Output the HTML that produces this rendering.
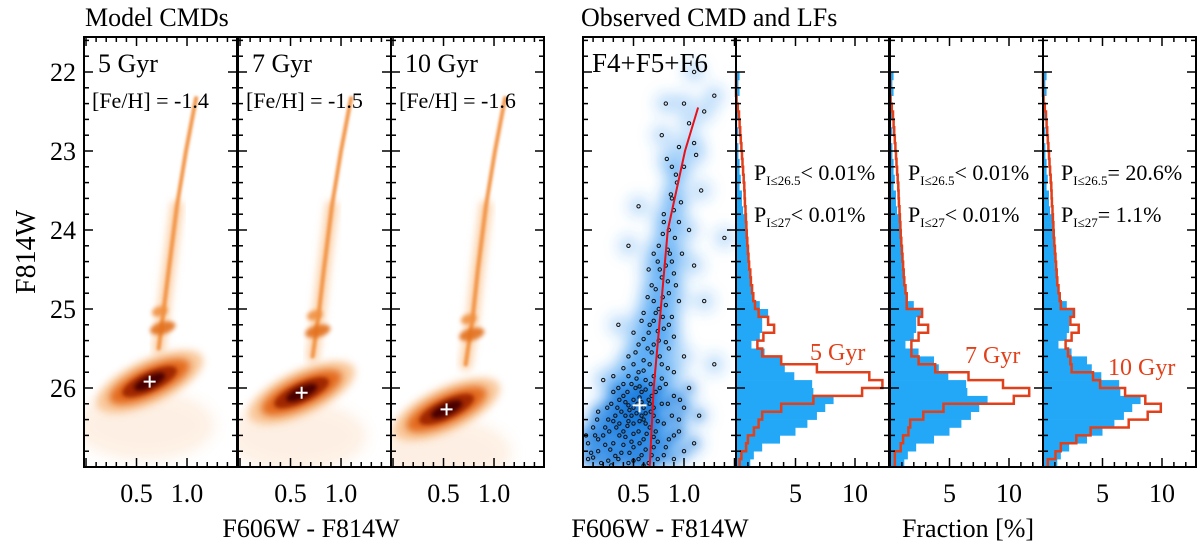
<!DOCTYPE html>
<html><head><meta charset="utf-8"><style>
html,body{margin:0;padding:0;background:#fff}
svg{display:block}
text{font-family:"Liberation Serif",serif;fill:#000}
</style></head><body>
<svg id="fig" width="1200" height="543" viewBox="0 0 1200 543" xmlns="http://www.w3.org/2000/svg">
<defs>
<filter id="b1" x="-50%" y="-50%" width="200%" height="200%"><feGaussianBlur stdDeviation="1.2"/></filter>
<filter id="b2" x="-50%" y="-50%" width="200%" height="200%"><feGaussianBlur stdDeviation="2"/></filter>
<filter id="b4" x="-50%" y="-50%" width="200%" height="200%"><feGaussianBlur stdDeviation="4"/></filter>
<filter id="b7" x="-50%" y="-50%" width="200%" height="200%"><feGaussianBlur stdDeviation="7"/></filter>
</defs>
<text x="85" y="26" font-size="26">Model CMDs</text>
<text x="581" y="26" font-size="26">Observed CMD and LFs</text>
<text transform="translate(35,252) rotate(-90)" text-anchor="middle" font-size="28">F814W</text>
<text x="311" y="537" text-anchor="middle" font-size="26">F606W - F814W</text>
<text x="660" y="537" text-anchor="middle" font-size="26">F606W - F814W</text>
<text x="968" y="537" text-anchor="middle" font-size="26">Fraction [%]</text>
<g id="layer"></g>
</svg>
<script>
// ---- data ----
const magTicks = [22, 23, 24, 25, 26];
const colorTicks = [0.5, 1.0];
const fracTicks = [5, 10];
const ages = ['5 Gyr', '7 Gyr', '10 Gyr'];
const fehLabels = ['[Fe/H] = -1.4', '[Fe/H] = -1.5', '[Fe/H] = -1.6'];
const binStart = 22.0;
const binWidth = 0.1;
const obsLF = [0.3,0.2,0.3,0.1,0.2,0.2,0.1,0.2,0.1,0.2, 0.2,0.3,0.3,0.4,0.3,0.5,0.5,0.6,0.8,0.9, 1.0,1.0,1.1,1.1,1.0,1.1,1.2,1.3,1.5,2.0, 2.7,2.2,2.2,2.0,1.3,2.4,3.7,4.1,4.9,6.4, 6.5,8.2,7.5,6.8,6.0,5.0,3.7,2.2,1.5,1.2];
const modelLF5 = [0,0,0,0.05,0.15,0.25,0.3,0.35,0.4,0.45, 0.5,0.55,0.6,0.65,0.7,0.72,0.75,0.8,0.83,0.87, 0.9,0.95,1.0,1.05,1.1,1.2,1.25,1.35,1.45,1.6, 1.9,2.7,3.2,2.3,1.8,2.2,3.8,6.8,11.2,12.3, 10.6,6.5,3.8,2.2,1.9,1.5,1.0,0.85,0.45,0.3];
const modelLF7 = [0,0,0,0.05,0.15,0.25,0.3,0.35,0.4,0.45, 0.5,0.55,0.6,0.65,0.7,0.72,0.75,0.8,0.83,0.87, 0.9,0.95,1.0,1.05,1.1,1.15,1.2,1.3,1.4,1.4, 2.7,2.4,3.2,2.4,1.8,1.8,2.4,3.8,6.6,9.5, 11.7,10.4,4.5,2.8,1.7,1.55,1.1,0.9,0.4,0.4];
const modelLF10 = [0,0,0,0.05,0.15,0.25,0.3,0.35,0.4,0.45, 0.5,0.55,0.6,0.65,0.7,0.72,0.75,0.8,0.83,0.87, 0.9,0.95,1.0,1.05,1.1,1.15,1.2,1.3,1.4,1.5, 2.6,2.3,3.0,2.4,1.9,2.1,2.3,2.4,4.2,4.8, 6.9,8.6,9.9,8.8,7.2,4.0,2.8,1.5,1.05,0.4];
const probTexts = [['< 0.01%','< 0.01%'],['< 0.01%','< 0.01%'],['= 20.6%','= 1.1%']];
const rgbTracks = [
 [[1.09,22.33],[0.99,23.0],[0.90,23.7],[0.82,24.5],[0.77,25.0],[0.72,25.5]],
 [[1.10,22.33],[1.00,23.0],[0.91,23.7],[0.83,24.5],[0.78,25.05],[0.72,25.6]],
 [[1.11,22.33],[1.01,23.0],[0.92,23.7],[0.84,24.5],[0.79,25.1],[0.72,25.7]]];
const clumps = [[[0.73,25.03],[0.76,25.24]],[[0.74,25.08],[0.77,25.28]],[[0.75,25.13],[0.78,25.32]]];
const msCenters = [[0.63,25.92],[0.61,26.06],[0.53,26.27]];
const obsStars = [[1.1,22.0],[0.82,22.4],[1.0,22.4],[1.2,22.5],[1.3,22.3],[0.78,22.8],[1.05,22.65],[1.1,22.9],[0.95,22.95],[1.12,23.05],[1.0,23.2],[0.55,23.7],[0.87,23.55],[0.93,23.4],[1.17,23.5],[0.9,23.75],[0.85,24.0],[0.95,23.9],[0.75,24.2],[1.05,24.0],[1.4,24.1],[0.45,24.2],[0.98,24.3],[0.82,24.45],[0.78,24.6],[1.1,24.45],[0.65,24.5],[0.9,24.55],[0.72,24.75],[0.85,24.8],[0.7,24.9],[0.95,24.9],[0.75,25.0],[0.6,25.05],[0.88,25.1],[1.2,24.9],[0.35,25.2],[0.5,25.3],[0.7,25.15],[0.8,25.25],[0.65,25.3],[0.9,25.35],[0.55,25.45],[0.75,25.4],[0.68,25.55],[0.45,25.6],[0.85,25.5],[0.6,25.65],[0.78,25.7],[1.0,25.6],[1.3,25.7],[0.4,25.75],[0.55,25.8],[0.7,25.85],[0.9,25.8],[0.3,25.85],[0.62,25.9],[0.82,25.95],[1.05,26.0],[0.2,25.9],[0.48,25.95],[0.35,26.0],[0.58,26.05],[0.72,26.05],[0.9,26.1],[0.4,26.1],[0.5,26.15],[0.65,26.15],[0.28,26.2],[0.45,26.22],[0.6,26.25],[0.78,26.2],[1.0,26.25],[0.15,26.3],[0.38,26.3],[0.53,26.32],[0.7,26.35],[0.88,26.35],[0.25,26.4],[0.45,26.42],[0.62,26.45],[0.8,26.45],[0.1,26.5],[0.33,26.5],[0.55,26.55],[0.72,26.55],[0.95,26.55],[0.2,26.6],[0.42,26.62],[0.6,26.65],[0.85,26.65],[0.05,26.7],[0.3,26.7],[0.5,26.75],[0.7,26.75],[0.15,26.8],[0.38,26.82],[0.58,26.85],[0.8,26.85],[0.05,26.9],[0.25,26.92],[0.45,26.95],[0.65,26.95],[0.9,26.9],[0.12,26.6],[0.18,26.95],[1.1,26.7],[0.3,26.05],[0.52,26.0],[0.42,26.35],[0.67,26.3],[0.56,26.12],[0.46,26.28],[0.36,26.45],[0.63,26.58],[0.48,26.68],[0.74,26.68],[0.27,26.78],[0.55,26.9],[0.08,26.82],[0.35,26.9],[0.85,25.2],[0.92,24.7],[0.8,23.9],[0.6,26.4],[0.4,26.55],[0.5,26.45],[0.58,26.35],[0.66,26.2],[0.32,26.35],[0.22,26.5],[0.76,26.0],[0.84,26.2],[0.95,26.4],[0.15,26.65],[0.68,26.85],[0.86,24.3],[0.74,24.4],[0.88,23.2],
[0.83,23.1],[0.92,23.3],[0.88,23.6],[0.97,23.65],[0.8,23.8],[0.91,24.1],[0.79,24.05],[0.7,24.3],[0.84,24.25],[0.88,24.4],[0.76,24.5],[0.84,24.65],[0.68,24.7],[0.79,24.85],[0.64,24.85],[0.82,24.95],[0.72,25.05],[0.79,25.1],[0.58,25.15],[0.66,25.2],[0.74,25.28],[0.6,25.38],[0.82,25.42],[0.7,25.45],[0.64,25.5],[0.52,25.55],[0.76,25.6],[0.66,25.7],[0.5,25.7],[0.84,25.75],[0.6,25.78],[0.45,25.85],[0.78,25.88],[0.53,25.88],[0.67,25.95],[0.4,25.95],[0.56,25.98],[0.62,26.02],[0.44,26.05],[0.68,26.1],[0.36,26.15],[0.54,26.2],[0.5,26.25],[0.42,26.18],[0.58,26.18],[0.7,26.25],[0.34,26.25],[0.62,26.32],[0.48,26.35],[0.56,26.42],[0.3,26.42],[0.74,26.42],[0.44,26.48],[0.66,26.5],[0.26,26.55],[0.5,26.58],[0.36,26.6],[0.7,26.62],[0.56,26.7],[0.4,26.72],[0.22,26.72],[0.62,26.78],[0.46,26.82],[0.32,26.86],[0.1,26.88],[0.74,26.9],[0.5,26.92],[0.28,26.98],[0.6,26.98],[0.14,26.4],[0.24,26.25],[0.9,26.6],[1.0,26.8],[0.82,26.75],[0.96,26.15],[1.15,26.35],[0.03,26.6]];
const fiducial = [[0.66,27.0],[0.70,26.0],[0.77,25.0],[0.84,24.0],[1.01,23.0],[1.14,22.45]];
const obsCenter = [0.56,26.22];

// ---- scales ----
const yTop = 37, yBot = 467;
const yM = m => 388 + (m - 26) * 79;
const modelLefts = [84, 238, 391];
const lfLefts = [736, 890, 1043];
const cmdLeft = 583, pw = 153;
const xCm = (c, l) => l + (c + 0.02) * 101;
const xCo = c => cmdLeft + c * 101;
const xF = (f, l) => l + f * 11.9;

const NS = 'http://www.w3.org/2000/svg';
const layer = document.getElementById('layer');
function mk(tag, attrs, parent) {
  const e = document.createElementNS(NS, tag);
  for (const k in attrs) e.setAttribute(k, attrs[k]);
  (parent || layer).appendChild(e);
  return e;
}
function pts(arr, fx) { return arr.map(p => fx(p[0]).toFixed(1) + ',' + yM(p[1]).toFixed(1)).join(' '); }
function tickPair(g, x, len) {
  mk('line', {x1: x, x2: x, y1: yBot, y2: yBot - len, stroke: '#000', 'stroke-width': 1.5}, g);
  mk('line', {x1: x, x2: x, y1: yTop, y2: yTop + len, stroke: '#000', 'stroke-width': 1.5}, g);
}

// ---- model panels ----
modelLefts.forEach((l, i) => {
  const g = mk('g', {});
  
  
  const cp = mk('clipPath', {id: 'cp' + i}, g);
  mk('rect', {x: l, y: yTop, width: pw, height: yBot - yTop}, cp);
  const d = mk('g', {'clip-path': 'url(#cp' + i + ')'}, g);
  const [mc, mm] = msCenters[i];
  const cx = xCm(mc, l), cy = yM(mm);
  mk('ellipse', {cx: cx - 5, cy: yM(mm + 0.55), rx: 70, ry: 35, fill: '#fde6d2', opacity: 0.6, filter: 'url(#b7)'}, d);
  const tr = rgbTracks[i];
  mk('polyline', {points: pts(tr.slice(2), c => xCm(c, l)), fill: 'none', stroke: '#fbd0a8', 'stroke-width': 12, 'stroke-linecap': 'round', filter: 'url(#b4)'}, d);
  const tr2 = mk('polyline', {points: pts(tr, c => xCm(c, l)), fill: 'none', stroke: '#f3964a', 'stroke-width': 4, 'stroke-linecap': 'round', filter: 'url(#b1)'}, d);
  
  
  clumps[i].forEach((p, j) => {
    mk('ellipse', {cx: xCm(p[0], l), cy: yM(p[1]), rx: j ? 13 : 8, ry: j ? 6 : 5, fill: j ? '#e2701e' : '#f09040', opacity: 0.9, transform: `rotate(-15 ${xCm(p[0], l)} ${yM(p[1])})`, filter: 'url(#b2)'}, d);
  });
  const rot = `rotate(-25 ${cx} ${cy})`;
  mk('ellipse', {cx: cx, cy: cy, rx: 58, ry: 22, fill: '#f8c08c', opacity: 0.85, transform: rot, filter: 'url(#b4)'}, d);
  mk('ellipse', {cx: cx, cy: cy, rx: 44, ry: 15, fill: '#e36a1e', transform: rot, filter: 'url(#b4)'}, d);
  mk('ellipse', {cx: cx, cy: cy, rx: 30, ry: 10, fill: '#a02806', transform: rot, filter: 'url(#b2)'}, d);
  mk('ellipse', {cx: cx, cy: cy, rx: 17, ry: 6, fill: '#4a0000', transform: rot, filter: 'url(#b2)'}, d);
  const plus = mk('path', {d: `M${cx - 6} ${cy}H${cx + 6}M${cx} ${cy - 6}V${cy + 6}`, stroke: '#fff', 'stroke-width': 2}, g);
  
  
  const t1 = mk('text', {x: l + 14, y: 72, 'font-size': 26}, g); t1.textContent = ages[i];
  
  
  const t2 = mk('text', {x: l + 8, y: 108, 'font-size': 22}, g); t2.textContent = fehLabels[i];
  
  
  for (let k = 0; k <= 14; k++) {
    const x = xCm(k / 10, l);
    if (x <= l + 1 || x >= l + pw - 1) continue;
    tickPair(g, x, (k % 5 === 0) ? 9 : 5);
  }
  colorTicks.forEach(c => {
    const t = mk('text', {x: xCm(c, l), y: 502, 'text-anchor': 'middle', 'font-size': 26}, g);
    t.textContent = c.toFixed(1);
    
    
  });
});

// ---- observed CMD ----
{
  const g = mk('g', {});
  
  
  const cp = mk('clipPath', {id: 'cpo'}, g);
  mk('rect', {x: cmdLeft, y: yTop, width: pw, height: yBot - yTop}, cp);
  const d = mk('g', {'clip-path': 'url(#cpo)'}, g);
  const dens = mk('g', {filter: 'url(#b7)'}, d);
  obsStars.forEach(p => mk('circle', {cx: xCo(p[0]), cy: yM(p[1]), r: 11, fill: '#2a95f0', opacity: 0.28}, dens));
  const dens2 = mk('g', {filter: 'url(#b4)'}, d);
  obsStars.forEach(p => { if (p[1] > 25.95) mk('circle', {cx: xCo(p[0]), cy: yM(p[1]), r: 6, fill: '#0a5fc8', opacity: 0.22}, dens2); });
  obsStars.forEach(p => {
    const s = mk('circle', {cx: xCo(p[0]), cy: yM(p[1]), r: 1.7, fill: 'none', stroke: '#111', 'stroke-width': 1}, d);
    
    
  });
  const f = mk('polyline', {points: pts(fiducial, xCo), fill: 'none', stroke: '#e8101a', 'stroke-width': 2}, d);
  
  
  const cx = xCo(obsCenter[0]), cy = yM(obsCenter[1]);
  const plus = mk('path', {d: `M${cx - 7} ${cy}H${cx + 7}M${cx} ${cy - 7}V${cy + 7}`, stroke: '#fff', 'stroke-width': 2}, g);
  
  
  const t = mk('text', {x: cmdLeft + 9, y: 72, 'font-size': 27}, g); t.textContent = 'F4+F5+F6';
  
  
  for (let k = 0; k <= 15; k++) {
    const x = xCo(k / 10);
    if (x <= cmdLeft + 1 || x >= cmdLeft + pw - 1) continue;
    tickPair(g, x, (k % 5 === 0) ? 9 : 5);
  }
  colorTicks.forEach(c => {
    const tt = mk('text', {x: xCo(c), y: 502, 'text-anchor': 'middle', 'font-size': 26}, g);
    tt.textContent = c.toFixed(1);
    
    
  });
}

// ---- LF panels ----
const modelLFs = [modelLF5, modelLF7, modelLF10];
const gyrPos = [[810, 360], [965, 363], [1108, 375]];
function stepPath(arr, l) {
  let dd = '';
  arr.forEach((v, i) => {
    const y0 = yM(binStart + i * binWidth), y1 = yM(binStart + (i + 1) * binWidth), x = xF(v, l);
    dd += (i === 0 ? 'M' : 'L') + x.toFixed(1) + ' ' + y0.toFixed(1) + 'L' + x.toFixed(1) + ' ' + y1.toFixed(1);
  });
  return dd;
}
lfLefts.forEach((l, i) => {
  const g = mk('g', {});
  
  
  obsLF.forEach((v, k) => {
    const y0 = yM(binStart + k * binWidth), y1 = yM(binStart + (k + 1) * binWidth);
    const r = mk('rect', {x: l, y: y0, width: Math.max(0, xF(v, l) - l), height: y1 - y0 + 0.3, fill: '#22a8f6'}, g);
    
    
  });
  const p = mk('path', {d: stepPath(modelLFs[i], l), fill: 'none', stroke: '#e2401a', 'stroke-width': 2.5}, g);
  
  
  const gt = mk('text', {x: gyrPos[i][0], y: gyrPos[i][1], 'font-size': 24, style: 'fill:#e2401a'}, g);
  gt.textContent = ages[i];
  
  
  [[180, 'I≤26.5', 0], [222, 'I≤27', 1]].forEach(([yy, sub, j]) => {
    const t = mk('text', {x: l + 18, y: yy, 'font-size': 22}, g);
    
    
    const a = mk('tspan', {}, t); a.textContent = 'P';
    const b = mk('tspan', {'font-size': 13, dy: 5}, t); b.textContent = sub;
    const c = mk('tspan', {dy: -5}, t); c.textContent = probTexts[i][j];
  });
  for (let k = 1; k <= 12; k++) {
    const x = xF(k, l);
    if (x >= l + pw - 1) continue;
    tickPair(g, x, (k % 5 === 0) ? 9 : 5);
  }
  fracTicks.forEach(f => {
    const t = mk('text', {x: xF(f, l), y: 502, 'text-anchor': 'middle', 'font-size': 26}, g);
    t.textContent = String(f);
    
    
  });
});

// ---- frames and y ticks ----
const allLefts = [...modelLefts, cmdLeft, ...lfLefts];
const frames = mk('g', {});


allLefts.forEach(l => {
  mk('rect', {x: l, y: yTop, width: pw, height: yBot - yTop, fill: 'none', stroke: '#000', 'stroke-width': 2}, frames);
  for (let k = 0; k <= 27; k++) {
    const m = 21.6 + k * 0.2; if (m >= 27) continue;
    const major = Math.abs(m - Math.round(m)) < 0.01;
    const len = major ? 9 : 5, y = yM(m);
    mk('line', {x1: l, x2: l + len, y1: y, y2: y, stroke: '#000', 'stroke-width': 1.5}, frames);
    mk('line', {x1: l + pw, x2: l + pw - len, y1: y, y2: y, stroke: '#000', 'stroke-width': 1.5}, frames);
  }
});
magTicks.forEach(m => {
  const t = mk('text', {x: 76, y: yM(m) + 9, 'text-anchor': 'end', 'font-size': 26});
  t.textContent = String(m);
  
  
});
</script>
</body></html>
